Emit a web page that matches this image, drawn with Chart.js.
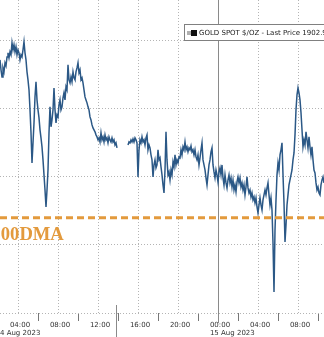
<!DOCTYPE html>
<html><head><meta charset="utf-8">
<script src="https://cdn.jsdelivr.net/npm/chart.js@4.4.0/dist/chart.umd.min.js"></script>
<style>html,body{margin:0;padding:0;background:#fff;overflow:hidden}canvas{display:block}</style>
</head><body>
<canvas id="c" width="324" height="337"></canvas>
<script>
// ---- data ----
const seriesName = 'GOLD SPOT $/OZ - Last Price 1902.9';
const firstSampleHour = 2.2;      // 02:12 on 14 Aug 2023 (hours since 14 Aug 00:00)
const sampleStepHours = 0.1;      // 6-minute samples
const goldPrices = [
  1913.60,1912.87,1912.35,1913.01,1912.72,1913.38,1913.16,1913.82,1914.12,1913.75,
  1914.19,1913.97,1914.85,1914.34,1914.71,1914.19,1914.56,1913.97,1914.34,1914.12,
  1913.60,1913.97,1913.82,1914.34,1914.93,1914.12,1913.60,1912.72,1912.13,1911.40,
  1909.93,1908.24,1906.03,1907.50,1908.97,1910.88,1911.99,1910.66,1909.93,1909.34,
  1908.46,1907.87,1907.21,1906.25,1905.15,1904.04,1902.79,1904.04,1905.51,1908.24,
  1910.15,1908.68,1909.19,1909.93,1911.54,1909.93,1908.97,1909.56,1909.41,1910.29,
  1910.66,1909.93,1910.15,1910.81,1911.18,1910.66,1911.62,1911.40,1913.24,1912.13,
  1911.91,1912.35,1911.99,1912.72,1912.28,1912.13,1912.72,1913.01,1913.38,1912.65,
  1912.87,1912.13,1912.28,1911.91,1911.40,1910.88,1910.66,1910.44,1910.15,1909.93,
  1909.41,1909.19,1908.82,1908.60,1908.46,1908.31,1908.09,1907.94,1907.72,1907.87,
  1907.57,1908.24,1907.72,1907.94,1907.57,1908.09,1907.72,1907.87,1907.50,1907.94,
  1907.72,1907.57,1907.87,1907.57,1907.72,1907.35,1907.50,1907.13,
  null,null,null,null,null,null,null,null,null,null,
  1907.35,1907.57,1907.50,1907.72,1907.57,1907.79,1907.57,1907.87,1907.72,1907.50,
  1905.00,1906.99,1907.72,1907.50,1907.94,1907.57,1907.72,1907.35,1907.87,1908.09,
  1906.99,1907.35,1907.13,1906.62,1906.25,1905.00,1905.88,1906.25,1905.66,1905.88,
  1906.99,1906.25,1906.40,1905.74,1905.15,1904.41,1903.82,1905.51,1908.31,1906.25,
  1905.15,1905.37,1904.78,1905.51,1905.15,1906.10,1905.74,1906.62,1905.88,1906.25,
  1906.03,1906.47,1906.40,1906.99,1906.62,1907.21,1906.99,1907.57,1906.99,1907.21,
  1906.84,1907.13,1906.99,1907.28,1906.84,1906.99,1906.62,1906.99,1906.47,1906.25,
  1906.62,1905.88,1906.40,1906.99,1907.50,1906.25,1905.88,1905.51,1904.93,1904.41,
  1905.15,1905.88,1906.25,1906.84,1907.13,1905.88,1905.37,1904.93,1905.51,1905.15,
  1904.63,1905.37,1905.66,1905.15,1905.88,1904.93,1904.41,1905.15,1904.56,1904.19,
  1904.78,1905.15,1904.56,1904.93,1904.26,1904.78,1904.04,1904.41,1903.90,1904.63,
  1905.00,1904.56,1904.93,1904.26,1904.56,1904.04,1904.41,1903.68,1904.26,1905.00,
  1904.19,1903.82,1904.04,1903.53,1903.82,1903.31,1903.53,1903.09,1903.46,1902.79,
  1902.35,1902.94,1903.46,1902.94,1902.57,1903.31,1903.68,1904.04,1903.68,1904.19,
  1904.56,1903.68,1902.94,1903.46,1902.57,1900.15,1896.54,1901.10,1903.31,1905.15,
  1906.03,1905.51,1906.62,1906.99,1907.50,1905.15,1903.09,1900.22,1901.47,1902.94,
  1903.68,1904.41,1904.78,1905.15,1905.51,1906.25,1906.76,1908.09,1909.93,1911.03,
  1911.54,1911.18,1910.66,1909.71,1908.46,1907.21,1907.72,1907.35,1908.31,1907.72,
  1907.13,1907.94,1907.21,1906.62,1907.21,1906.25,1905.51,1905.29,1904.56,1904.04,
  1904.26,1903.82,1903.68,1904.41,1904.78,1905.00,1904.56
];
const dma200Level = 1902.0;
const dma200Label = '200DMA';
const dayLabels = ['14 Aug 2023', '15 Aug 2023'];
const dayStartHours = [0, 24];
const sessionBreakHour = 13.8;
const priceAxisMin = 1895;
const priceAxisMax = 1918;
const priceGridStep = 5;
const timeLabelStepHours = 4;
const timeMinorStepHours = 2;

// ---- build points ----
const pricePoints = goldPrices.map((p, i) => ({ x: firstSampleHour + i * sampleStepHours, y: p }));
const lastHour = firstSampleHour + (goldPrices.length - 1) * sampleStepHours;
const dmaPoints = [{ x: firstSampleHour, y: dma200Level }, { x: lastHour, y: dma200Level }];

const ORANGE = '#E39A3D';
const GRID = '#b4b4b4';
const FONT = '"DejaVu Sans", sans-serif';
const LABEL_SHIFT = 2;

function hhmm(h) { const v = ((h % 24) + 24) % 24; return String(v).padStart(2, '0') + ':00'; }

const overlay = {
  id: 'overlay',
  beforeDatasetsDraw(chart) {
    const { ctx, chartArea: a, scales: { x } } = chart;
    ctx.save();
    ctx.strokeStyle = '#8a8a8a';
    ctx.lineWidth = 1;
    const xd = Math.round(x.getPixelForValue(dayStartHours[1])) + 0.5;
    ctx.beginPath(); ctx.moveTo(xd, a.top); ctx.lineTo(xd, a.bottom + 10); ctx.stroke();
    const xs = Math.round(x.getPixelForValue(sessionBreakHour)) + 0.5;
    ctx.beginPath(); ctx.moveTo(xs, a.bottom - 8); ctx.lineTo(xs, chart.height); ctx.stroke();
    ctx.restore();
  },
  afterDraw(chart) {
    const { ctx, chartArea: a, scales: { x, y } } = chart;
    ctx.save();
    // 200DMA label
    ctx.fillStyle = ORANGE;
    ctx.font = 'bold 18.6px "Liberation Serif", serif';
    ctx.textBaseline = 'alphabetic';
    ctx.textAlign = 'left';
    ctx.fillText(dma200Label, a.left - 8.5, y.getPixelForValue(dma200Level) + 22);
    // day labels
    ctx.fillStyle = '#333';
    ctx.font = '7px ' + FONT;
    ctx.textBaseline = 'middle';
    const half = ctx.measureText('00:00').width / 2;
    ctx.fillText(dayLabels[0], a.left - 4.5, 333);
    ctx.fillText(dayLabels[1], x.getPixelForValue(dayStartHours[1]) - half + LABEL_SHIFT, 333);
    // legend box
    const lx = a.left + 184.5, ly = 24.5;
    ctx.fillStyle = '#fff';
    ctx.fillRect(lx, ly, 220, 16);
    ctx.strokeStyle = '#808080';
    ctx.lineWidth = 1;
    ctx.strokeRect(lx, ly, 220, 16);
    ctx.fillStyle = '#b0b0b0';
    ctx.fillRect(lx + 2.5, ly + 6.5, 4, 4);
    ctx.fillStyle = '#111';
    ctx.fillRect(lx + 6.5, ly + 5.5, 6, 6);
    ctx.fillStyle = '#222';
    ctx.font = '7px ' + FONT;
    ctx.textBaseline = 'middle';
    ctx.fillText(seriesName, lx + 14.5, ly + 8.5);
    ctx.restore();
  }
};

new Chart(document.getElementById('c'), {
  type: 'line',
  data: {
    datasets: [
      { label: seriesName, data: pricePoints, borderColor: '#2b5886', borderWidth: 1.5,
        pointRadius: 0, tension: 0, spanGaps: false, order: 1 },
      { label: dma200Label, data: dmaPoints, borderColor: ORANGE, borderWidth: 3,
        borderDash: [7, 4], pointRadius: 0, order: 0 }
    ]
  },
  options: {
    responsive: false,
    animation: false,
    devicePixelRatio: 1,
    layout: { padding: 0 },
    plugins: { legend: { display: false }, tooltip: { enabled: false } },
    scales: {
      x: {
        type: 'linear',
        min: firstSampleHour,
        max: lastHour,
        afterBuildTicks: s => {
          const t = [];
          for (let h = Math.ceil(s.min / timeMinorStepHours) * timeMinorStepHours; h <= s.max; h += timeMinorStepHours) t.push({ value: h });
          s.ticks = t;
        },
        afterFit: s => { s.height = 24; },
        ticks: {
          autoSkip: false, maxRotation: 0, padding: 0, labelOffset: LABEL_SHIFT,
          color: '#333', font: { family: FONT, size: 7 },
          callback: v => (v % timeLabelStepHours === 0 ? hhmm(v) : '')
        },
        grid: {
          color: c => (c.tick && c.tick.value % timeLabelStepHours === 0 ? GRID : 'rgba(0,0,0,0)'),
          lineWidth: 1,
          drawTicks: true,
          tickLength: 8,
          tickColor: c => (c.tick && c.tick.value % timeLabelStepHours === 0 ? 'rgba(0,0,0,0)' : '#777')
        },
        border: { display: false, dash: [1, 2] }
      },
      y: {
        position: 'right',
        min: priceAxisMin,
        max: priceAxisMax,
        afterBuildTicks: s => {
          const t = [];
          for (let v = Math.ceil(s.min / priceGridStep) * priceGridStep; v <= s.max; v += priceGridStep) t.push({ value: v });
          s.ticks = t;
        },
        afterFit: s => { s.width = 0; },
        ticks: { display: false },
        grid: { color: GRID, lineWidth: 1, drawTicks: false },
        border: { display: false, dash: [1, 2] }
      }
    }
  },
  plugins: [overlay]
});
</script>
</body></html>
